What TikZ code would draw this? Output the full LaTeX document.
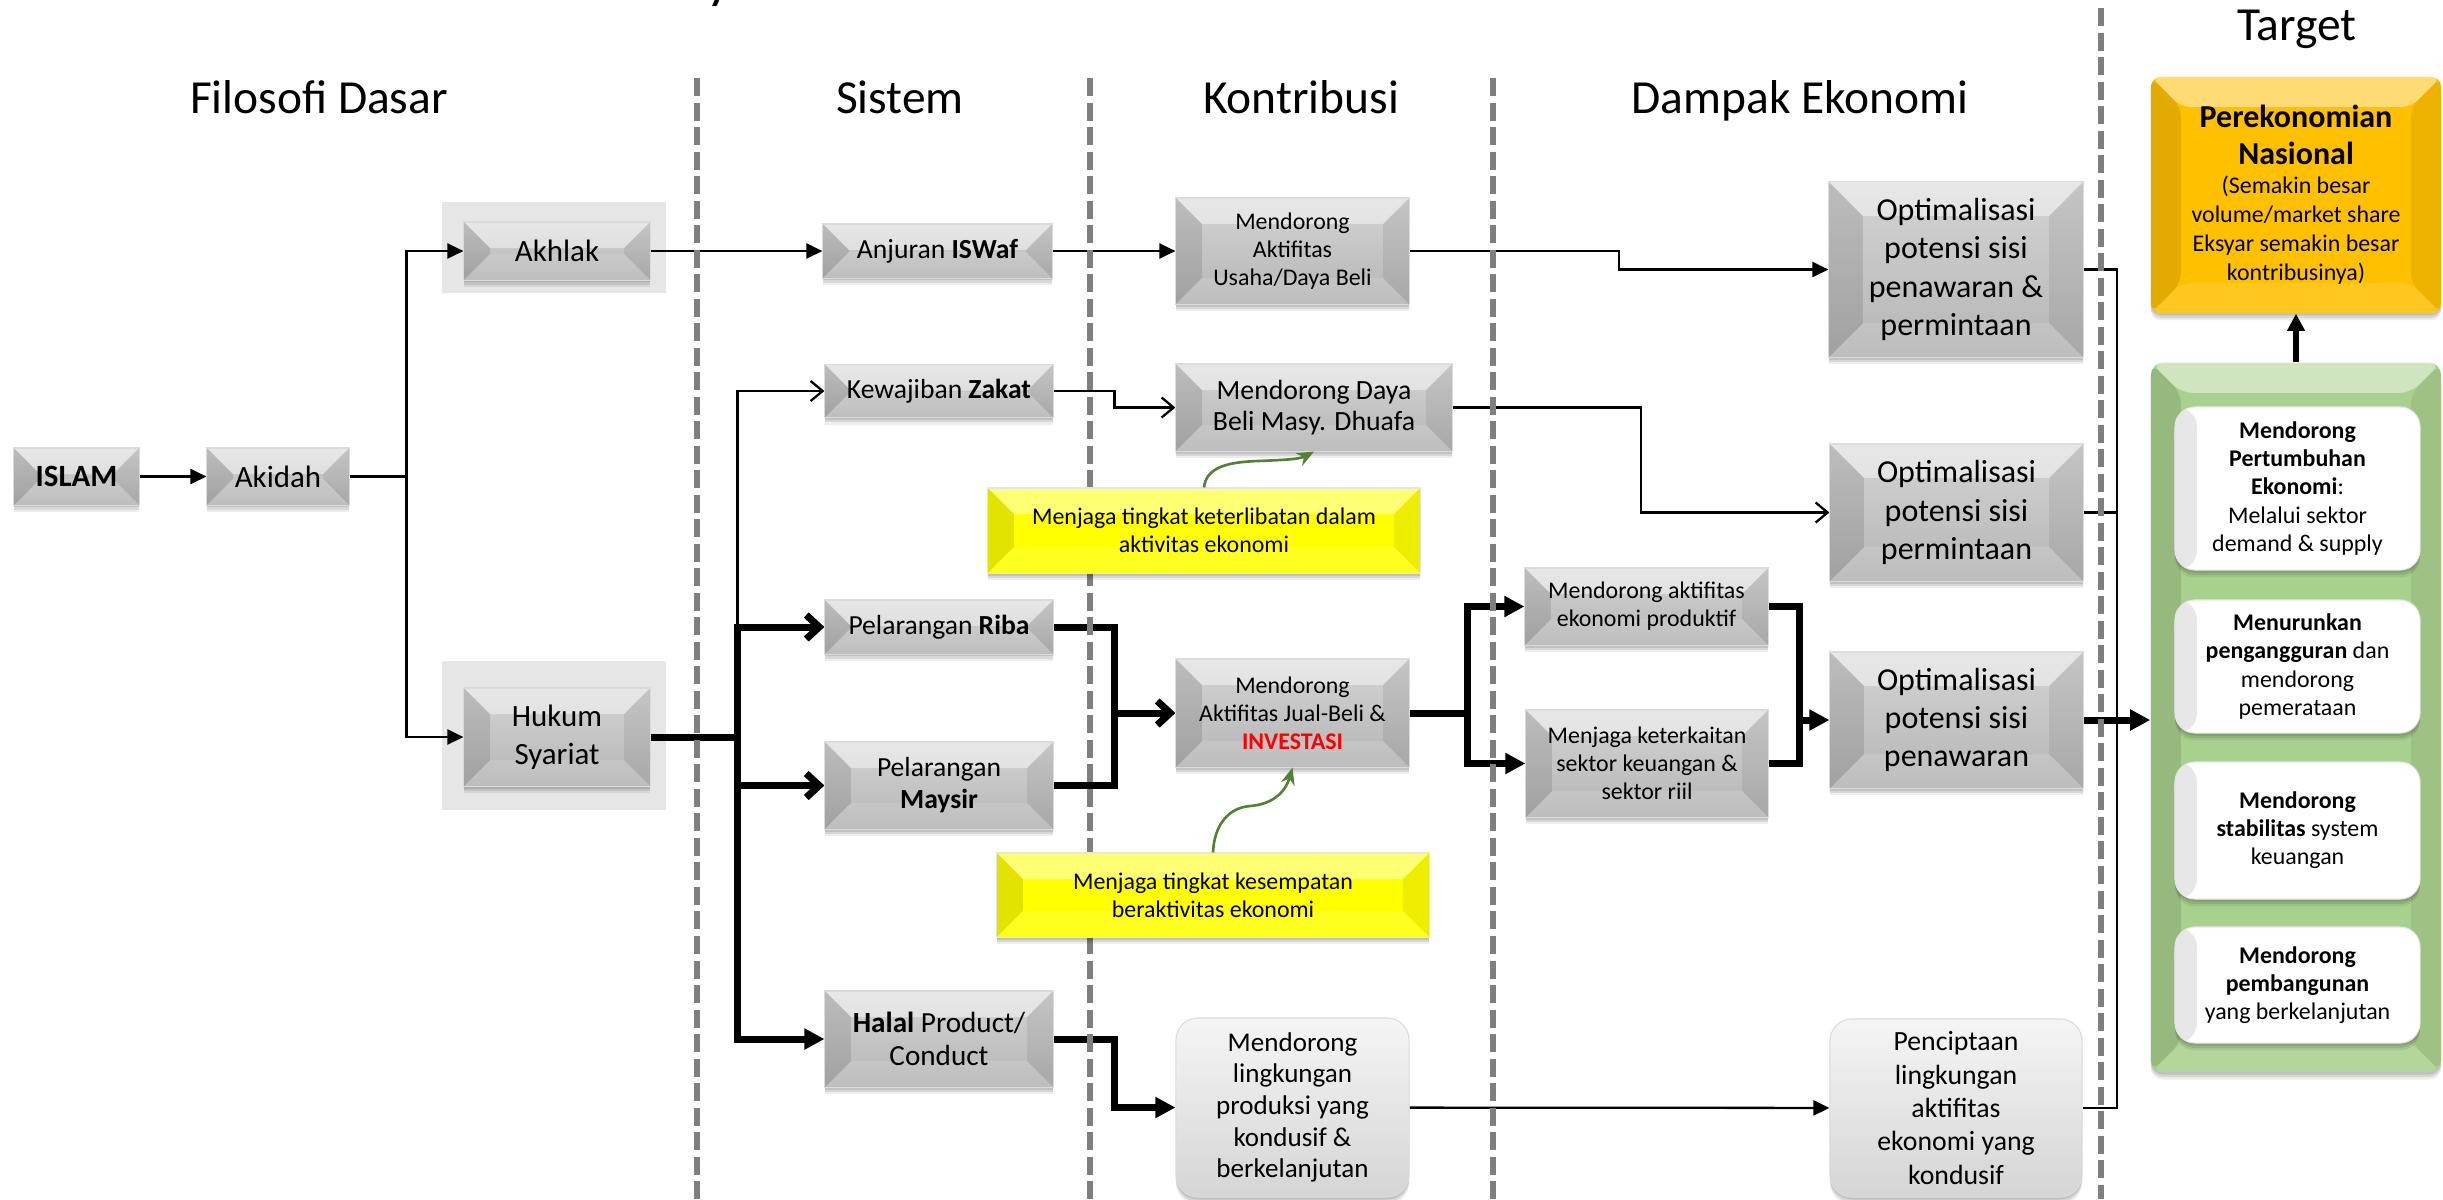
\documentclass[tikz,border=0pt]{standalone}
\usepackage{fontspec}
\setmainfont{Carlito}
\usetikzlibrary{arrows.meta,calc}

\pgfdeclarelayer{bottom}
\pgfdeclarelayer{links}
\pgfdeclarelayer{guides}
\pgfsetlayers{bottom,links,guides,main}

\definecolor{sepgray}{HTML}{7F7F7F}
\definecolor{bggray}{HTML}{E6E6E6}
\definecolor{btntop}{HTML}{D4D4D4}
\definecolor{btnbot}{HTML}{B5B5B5}
\definecolor{noteyellow}{HTML}{FFFF00}
\definecolor{gold}{HTML}{FFC000}
\definecolor{leaf}{HTML}{A9D18E}
\definecolor{curvegreen}{HTML}{548235}
\definecolor{softtop}{HTML}{F5F5F5}
\definecolor{softbot}{HTML}{D5D5D5}

% font sizes used by the different box families
\newcommand\fzHead{\fontsize{13.5}{16}\selectfont}
\newcommand\fzA{\fontsize{8.8}{10.8}\selectfont}
\newcommand\fzS{\fontsize{7.85}{9.1}\selectfont}
\newcommand\fzHalal{\fontsize{8.3}{9.4}\selectfont}
\newcommand\fzSmall{\fontsize{6.8}{8}\selectfont}
\newcommand\fzDaya{\fontsize{7.9}{8.6}\selectfont}
\newcommand\fzOpt{\fontsize{9.1}{10.9}\selectfont}
\newcommand\fzRound{\fontsize{7.7}{9}\selectfont}
\newcommand\fzPenc{\fontsize{7.9}{9.5}\selectfont}
\newcommand\fzGold{\fontsize{9.1}{10.4}\selectfont}
\newcommand\fzGoldS{\fontsize{6.8}{8.3}\selectfont}

\tikzset{
  bevel depth/.store in=\bevd, bevel depth=0.26cm,
  bevel/.style={path picture={
    \coordinate (q1) at (path picture bounding box.north west);
    \coordinate (q2) at (path picture bounding box.north east);
    \coordinate (q3) at (path picture bounding box.south east);
    \coordinate (q4) at (path picture bounding box.south west);
    \coordinate (i1) at ([shift={(\bevd,-\bevd)}]q1);
    \coordinate (i2) at ([shift={(-\bevd,-\bevd)}]q2);
    \coordinate (i3) at ([shift={(-\bevd,\bevd)}]q3);
    \coordinate (i4) at ([shift={(\bevd,\bevd)}]q4);
    \fill[white, fill opacity=0.45] (q1) -- (q2) -- (i2) -- (i1) -- cycle;
    \fill[black, fill opacity=0.11] (q1) -- (i1) -- (i4) -- (q4) -- cycle;
    \fill[black, fill opacity=0.07] (q2) -- (i2) -- (i3) -- (q3) -- cycle;
    \fill[white, fill opacity=0.12] (q4) -- (i4) -- (i3) -- (q3) -- cycle;
  }},
  % soft shadow below a box, built from a few faint shifted copies
  shade box/.style={
    preaction={draw=none, fill=black, fill opacity=0.10, transform canvas={yshift=-0.7pt}},
    preaction={draw=none, fill=black, fill opacity=0.09, transform canvas={yshift=-1.4pt}},
    preaction={draw=none, fill=black, fill opacity=0.07, transform canvas={yshift=-2.1pt}}},
  btn/.style={shade box, bevel, draw=white!86!black, line width=0.3pt,
      top color=btntop, bottom color=btnbot, align=center, inner sep=0pt},
  note/.style={shade box, bevel, draw=white!90!black, line width=0.3pt,
      fill=noteyellow, align=center, inner sep=0pt, font=\fzSmall},
  soft/.style={shade box, rounded corners=0.22cm, draw=white!86!black, line width=0.3pt,
      top color=softtop, bottom color=softbot, align=center, inner sep=0pt},
  card/.style={shade box, rounded corners=0.2cm, draw=white!90!black, line width=0.3pt,
      fill=white, align=center, inner sep=0pt, font=\fzSmall,
      path picture={\shade[left color=black!10, right color=white]
        (path picture bounding box.north west) rectangle
        ([xshift=0.22cm]path picture bounding box.south west);}},
  goldbox/.style={shade box, bevel, bevel depth=0.3cm, rounded corners=0.1cm,
      fill=gold, inner sep=0pt},
  leafbox/.style={shade box, bevel, bevel depth=0.3cm, rounded corners=0.12cm,
      fill=leaf, inner sep=0pt},
  head/.style={font=\fzHead, anchor=base, inner sep=0pt},
  thinc/.style={line width=0.65pt, draw=black},
  thickc/.style={line width=2pt, draw=black},
  sep/.style={draw=sepgray, line width=1.6pt, dash pattern=on 0.18cm off 0.065cm},
  atri/.style={-{Triangle[length=0.16cm,width=0.15cm]}},
  abarb/.style={-{Straight Barb[length=0.12cm,width=0.2cm]}},
  thbarb/.style={-{Straight Barb[length=0.13cm,width=0.24cm]}},
  thtri/.style={-{Triangle[length=0.2cm,width=0.2cm]}},
  uptri/.style={-{Triangle[length=0.17cm,width=0.17cm]}},
  curvec/.style={draw=curvegreen, line width=0.75pt, -{Stealth[length=0.17cm,width=0.14cm]}},
}

\begin{document}
\begin{tikzpicture}[x=0.01cm, y=-0.01cm]
\useasboundingbox (0,0) rectangle (2443,1199);

\begin{pgfonlayer}{bottom}
  \fill[white] (0,0) rectangle (2443,1199);
  \fill[bggray] (442,202) rectangle (666,293);
  \fill[bggray] (442,661) rectangle (666,810);
\end{pgfonlayer}

% column headings
\node[head, font=\fontsize{16}{19}\selectfont, anchor=base west] (ttly) at (706,-3) {y};
\node[head] (hFil) at (319,113) {Filosofi Dasar};
\node[head] (hSis) at (900,113) {Sistem};
\node[head] (hKon) at (1301,113) {Kontribusi};
\node[head] (hDam) at (1800,113) {Dampak Ekonomi};
\node[head] (hTar) at (2297,40) {Target};

% Filosofi Dasar
\node[btn, minimum width=1.25cm, minimum height=0.57cm, font=\fzA] (islam) at (76.5,476.5) {\textbf{ISLAM}};
\node[btn, minimum width=1.42cm, minimum height=0.57cm, font=\fzA] (akidah) at (278,476.5) {Akidah};
\node[btn, minimum width=1.86cm, minimum height=0.58cm, font=\fzA] (akhlak) at (557,251) {Akhlak};
\node[btn, minimum width=1.86cm, minimum height=0.98cm, font=\fzA] (hukum) at (557,737) {Hukum\\Syariat};

% Sistem
\node[btn, minimum width=2.29cm, minimum height=0.54cm, font=\fzS] (anjuran) at (937.5,251) {Anjuran \textbf{ISWaf}};
\node[btn, minimum width=2.28cm, minimum height=0.53cm, font=\fzS] (zakat) at (939,391) {Kewajiban \textbf{Zakat}};
\node[btn, minimum width=2.28cm, minimum height=0.54cm, font=\fzS] (riba) at (939,627) {Pelarangan \textbf{Riba}};
\node[btn, minimum width=2.28cm, minimum height=0.87cm, font=\fzS] (maysir) at (939,785.5) {Pelarangan\\\textbf{Maysir}};
\node[btn, minimum width=2.28cm, minimum height=0.96cm, font=\fzHalal] (halal) at (939,1039) {\textbf{Halal} Product/\\Conduct};

% Kontribusi
\node[btn, minimum width=2.33cm, minimum height=1.06cm, font=\fzSmall] (usaha) at (1292.5,251) {Mendorong\\Aktifitas\\Usaha/Daya Beli};
\node[btn, minimum width=2.76cm, minimum height=0.87cm, font=\fzDaya] (daya) at (1314,407.5) {Mendorong Daya\\Beli Masy. Dhuafa};
\node[note, minimum width=4.32cm, minimum height=0.85cm] (yel1) at (1204,530.5) {Menjaga tingkat keterlibatan dalam\\aktivitas ekonomi};
\node[btn, minimum width=2.33cm, minimum height=1.08cm, font=\fzSmall] (jb) at (1292.5,713) {Mendorong\\Aktifitas Jual-Beli \&\\\textcolor{red}{\textbf{INVESTASI}}};
\node[note, minimum width=4.32cm, minimum height=0.84cm] (yel2) at (1213,895) {Menjaga tingkat kesempatan\\beraktivitas ekonomi};
\node[soft, minimum width=2.33cm, minimum height=1.79cm, font=\fzRound] (ling) at (1292.5,1107.5) {Mendorong\\lingkungan\\produksi yang\\kondusif \&\\berkelanjutan};

% Dampak Ekonomi
\node[btn, minimum width=2.43cm, minimum height=0.77cm, font=\fzSmall] (prod) at (1646.5,606.5) {Mendorong aktifitas\\ekonomi produktif};
\node[btn, minimum width=2.42cm, minimum height=1.07cm, font=\fzSmall] (ket) at (1647,763.5) {Menjaga keterkaitan\\sektor keuangan \&\\sektor riil};
\node[btn, bevel depth=0.34cm, minimum width=2.54cm, minimum height=1.75cm, font=\fzOpt] (opt1) at (1956,269.5) {Optimalisasi\\potensi sisi\\penawaran \&\\permintaan};
\node[btn, bevel depth=0.34cm, minimum width=2.53cm, minimum height=1.37cm, font=\fzOpt] (opt2) at (1956.5,512.5) {Optimalisasi\\potensi sisi\\permintaan};
\node[btn, bevel depth=0.34cm, minimum width=2.53cm, minimum height=1.36cm, font=\fzOpt] (opt3) at (1956.5,720) {Optimalisasi\\potensi sisi\\penawaran};
\node[soft, minimum width=2.52cm, minimum height=1.78cm, font=\fzPenc] (penc) at (1956,1108) {Penciptaan\\lingkungan\\aktifitas\\ekonomi yang\\kondusif};

% Target
\node[goldbox, minimum width=2.90cm, minimum height=2.36cm, text width=2.8cm, align=flush center] (nas) at (2296,195)
  {{\fzGold\bfseries Perekonomian\\Nasional\par}{\fzGoldS (Semakin besar\\volume/market share\\Eksyar semakin besar\\kontribusinya)\par}};
\node[leafbox, minimum width=2.90cm, minimum height=7.09cm] (grn) at (2296,717.5) {};
\node[card, minimum width=2.45cm, minimum height=1.63cm] (g1) at (2297.5,488.5)
  {\textbf{Mendorong}\\\textbf{Pertumbuhan}\\\textbf{Ekonomi}:\\Melalui sektor\\demand \& supply};
\node[card, minimum width=2.45cm, minimum height=1.33cm] (g2) at (2297.5,666.5)
  {\textbf{Menurunkan}\\\textbf{pengangguran} dan\\mendorong\\pemerataan};
\node[card, minimum width=2.45cm, minimum height=1.37cm] (g3) at (2297.5,830.5)
  {\textbf{Mendorong}\\\textbf{stabilitas} system\\keuangan};
\node[card, minimum width=2.45cm, minimum height=1.16cm] (g4) at (2297.5,985)
  {\textbf{Mendorong}\\\textbf{pembangunan}\\yang berkelanjutan};

% connectors
\begin{pgfonlayer}{links}
  \draw[thinc, atri] (islam) -- (akidah);
  \coordinate (jA) at ($(akidah.east)!0.5!(akhlak.west |- akidah.east)$);
  \draw[thinc] (akidah.east) -- (jA);
  \draw[thinc, atri] (jA) |- (akhlak.west);
  \draw[thinc, atri] (jA) |- (hukum.west);
  \draw[thinc, atri] (akhlak) -- (anjuran);
  \draw[thinc, atri] (anjuran) -- (usaha);
  \coordinate (jU) at ($(usaha.east)!0.5!(opt1.west)$);
  \draw[thinc, atri] (usaha.east) -| (jU) |- (opt1.west);

  \coordinate (sR) at ($(hukum.east)!0.5!(riba.west |- hukum.east)$);
  \draw[thickc] (hukum.east) -- (sR);
  \draw[thinc, abarb] (sR |- riba.west) |- (zakat.west);
  \draw[thickc, thbarb] (sR |- maysir.west) |- (riba.west);
  \draw[thickc, thbarb] (sR |- riba.west) |- (maysir.west);
  \draw[thickc, thtri] (sR |- riba.west) |- (halal.west);

  \draw[thinc, abarb] (zakat.east) -| ($(zakat.east)!0.5!(daya.west)$) |- (daya.west);
  \draw[thinc, abarb] (daya.east) -| ($(daya.east)!0.5!(opt2.west)$) |- (opt2.west);

  \coordinate (mR) at ($(riba.east)!0.5!(jb.west)$);
  \draw[thickc] (riba.east) -| (mR |- maysir.east) -- (maysir.east);
  \draw[thickc, thbarb] (mR |- jb.west) -- (jb.west);

  \coordinate (mJ) at ($(jb.east)!0.5!(prod.west)$);
  \draw[thickc] (jb.east) -- (mJ |- jb.east);
  \draw[thickc, thtri] (mJ |- ket.west) |- (prod.west);
  \draw[thickc, thtri] (mJ |- prod.west) |- (ket.west);

  \coordinate (mP) at ($(prod.east)!0.5!(opt3.west)$);
  \draw[thickc] (prod.east) -| (mP |- ket.east) -- (ket.east);
  \draw[thickc, thtri] (mP |- opt3.west) -- (opt3.west);
  \draw[thickc, thtri] (opt3.east) -- (opt3.east -| grn.west);

  \coordinate (mT) at ($(opt1.east)!0.5!(opt1.east -| grn.west)$);
  \draw[thinc] (opt1.east) -| (mT |- penc.east) -- (penc.east);
  \draw[thinc] (opt2.east) -- (mT |- opt2.east);

  \draw[thickc, thtri] (halal.east) -| ($(halal.east)!0.5!(ling.west)$) |- (ling.west);
  \draw[thinc, atri] (ling) -- (penc);
\end{pgfonlayer}

% column separators
\begin{pgfonlayer}{guides}
  \draw[sep] (697,78) -- (697,1199);
  \draw[sep] (1090,78) -- (1090,1199);
  \draw[sep] (1493,78) -- (1493,1199);
  \draw[sep] (2101,8) -- (2101,1199);
\end{pgfonlayer}

% arrows drawn above the boxes
\draw[line width=1.7pt, uptri] (grn.north) -- (nas.south);
\draw[curvec] (yel1.north) .. controls (1206,468) and (1226,462) .. (1258,461)
  .. controls (1285,460) and (1300,459) .. (daya.south);
\draw[curvec] (yel2.north) .. controls (1214,828) and (1226,808) .. (1250,806)
  .. controls (1275,804) and (1286,790) .. (jb.south);
\end{tikzpicture}
\end{document}
